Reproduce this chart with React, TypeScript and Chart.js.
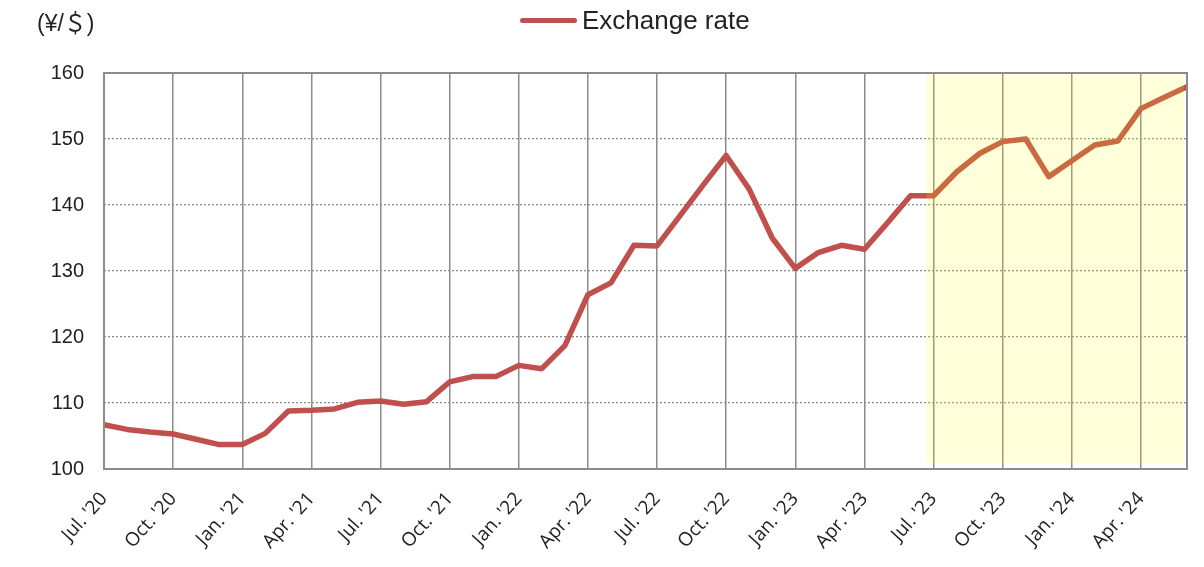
import React, { useEffect, useRef } from "react";
import { Chart, registerables } from "chart.js";

Chart.register(...registerables);

const months: string[] = [
  "Jul. '20", "Aug. '20", "Sep. '20", "Oct. '20", "Nov. '20", "Dec. '20",
  "Jan. '21", "Feb. '21", "Mar. '21", "Apr. '21", "May. '21", "Jun. '21",
  "Jul. '21", "Aug. '21", "Sep. '21", "Oct. '21", "Nov. '21", "Dec. '21",
  "Jan. '22", "Feb. '22", "Mar. '22", "Apr. '22", "May. '22", "Jun. '22",
  "Jul. '22", "Aug. '22", "Sep. '22", "Oct. '22", "Nov. '22", "Dec. '22",
  "Jan. '23", "Feb. '23", "Mar. '23", "Apr. '23", "May. '23", "Jun. '23",
  "Jul. '23", "Aug. '23", "Sep. '23", "Oct. '23", "Nov. '23", "Dec. '23",
  "Jan. '24", "Feb. '24", "Mar. '24", "Apr. '24", "May. '24", "Jun. '24",
];

const exchangeRate: number[] = [
  106.7, 106.0, 105.6, 105.3, 104.5, 103.7,
  103.7, 105.4, 108.8, 108.9, 109.1, 110.1,
  110.3, 109.8, 110.2, 113.2, 114.0, 114.0,
  115.7, 115.2, 118.7, 126.4, 128.2, 133.9,
  133.8, 138.4, 143.0, 147.5, 142.4, 135.0,
  130.4, 132.8, 133.9, 133.3, 137.3, 141.4,
  141.4, 145.0, 147.8, 149.6, 150.0, 144.3,
  146.7, 149.1, 149.7, 154.6, 156.3, 157.9,
];

const yMin = 100;
const yMax = 160;
const yStep = 10;
const labelEvery = 3;
const highlightStartIndex = 36;

const seriesLabel = "Exchange rate";
const unitLabel = "(¥/＄)";

const LINE_COLOR = "#C0504D";
const GRID_COLOR = "#8c8c8c";
const TEXT_COLOR = "#222222";

export default function App() {
  const ref = useRef<HTMLCanvasElement>(null);

  useEffect(() => {
    if (!ref.current) return;

    const overlayAndFrame = {
      id: "overlayAndFrame",
      afterDatasetsDraw(chart: any) {
        const { ctx, chartArea, scales } = chart;
        const xs = scales.x;
        const { left, right, top, bottom } = chartArea;
        ctx.save();
        // highlighted period
        const x0 = xs.getPixelForValue(highlightStartIndex) - 7;
        const x1 = right - 3;
        ctx.fillStyle = "rgba(255,255,0,0.15)";
        ctx.fillRect(x0, top - 1, x1 - x0, bottom - 6 - (top - 1));
        // frame
        ctx.strokeStyle = GRID_COLOR;
        ctx.lineWidth = 2;
        ctx.setLineDash([]);
        ctx.strokeRect(left, top, right - left, bottom - top);
        ctx.restore();
      },
    };

    const chart = new Chart(ref.current, {
      type: "line",
      data: {
        labels: months,
        datasets: [
          {
            label: seriesLabel,
            data: exchangeRate,
            borderColor: LINE_COLOR,
            backgroundColor: LINE_COLOR,
            borderWidth: 5.5,
            pointRadius: 0,
            tension: 0,
            fill: false,
            borderJoinStyle: "round",
          },
        ],
      },
      options: {
        animation: false,
        responsive: false,
        maintainAspectRatio: false,
        layout: { padding: { left: 0, right: 17, top: 73, bottom: 0 } },
        plugins: {
          legend: { display: false },
          tooltip: { enabled: false },
          title: { display: false },
        },
        scales: {
          x: {
            type: "category",
            offset: false,
            grid: {
              drawTicks: false,
              lineWidth: 1.5,
              color: (c: any) =>
                c.index % labelEvery === 0 ? GRID_COLOR : "rgba(0,0,0,0)",
            },
            border: { display: false },
            ticks: {
              autoSkip: false,
              minRotation: 48,
              maxRotation: 48,
              padding: 19,
              color: TEXT_COLOR,
              font: { family: "'Open Sans', sans-serif", size: 19 },
              callback: (_v: any, i: number) =>
                i % labelEvery === 0 ? months[i] : "",
            },
            afterFit: (s: any) => {
              s.height = 98;
              s.paddingLeft = 0;
              s.paddingRight = 0;
            },
          },
          y: {
            min: yMin,
            max: yMax,
            grid: {
              drawTicks: false,
              lineWidth: 1.3,
              color: (c: any) =>
                c.tick && (c.tick.value === yMin || c.tick.value === yMax)
                  ? "rgba(0,0,0,0)"
                  : GRID_COLOR,
            },
            border: { display: false, dash: [2, 2] },
            ticks: {
              stepSize: yStep,
              padding: 20,
              color: TEXT_COLOR,
              font: { family: "'Liberation Sans', Arial, sans-serif", size: 20 },
            },
            afterFit: (s: any) => {
              s.width = 104;
              s.paddingTop = 0;
              s.paddingBottom = 0;
            },
          },
        },
      },
      plugins: [overlayAndFrame],
    } as any);

    return () => chart.destroy();
  }, []);

  return (
    <div
      style={{
        position: "fixed",
        left: 0,
        top: 0,
        width: 1204,
        height: 567,
        background: "#ffffff",
      }}
    >
      <canvas ref={ref} width={1204} height={567} style={{ display: "block" }} />
      <div
        style={{
          position: "absolute",
          left: 37,
          top: 10,
          fontFamily: "'Liberation Sans', 'Noto Sans CJK JP', sans-serif",
          fontSize: 23,
          lineHeight: "26px",
          color: TEXT_COLOR,
          whiteSpace: "nowrap",
        }}
      >
        {unitLabel}
      </div>
      <div
        style={{
          position: "absolute",
          left: 520,
          top: 18,
          width: 57,
          height: 5,
          borderRadius: 3,
          background: LINE_COLOR,
        }}
      />
      <div
        style={{
          position: "absolute",
          left: 582,
          top: 5,
          fontFamily: "'Liberation Sans', Arial, sans-serif",
          fontSize: 26,
          lineHeight: "30px",
          color: TEXT_COLOR,
          whiteSpace: "nowrap",
        }}
      >
        {seriesLabel}
      </div>
    </div>
  );
}
